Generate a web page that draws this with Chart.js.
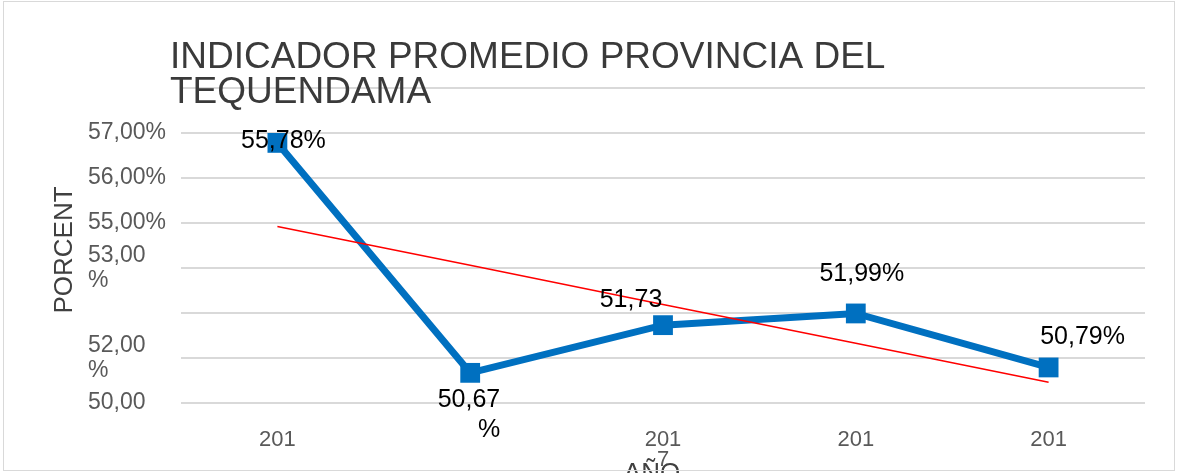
<!DOCTYPE html>
<html>
<head>
<meta charset="utf-8">
<script src="https://cdn.jsdelivr.net/npm/chart.js@4/dist/chart.umd.min.js"></script>
<style>
  body { margin: 0; background: #fff; }
  #wrap { width: 1177px; height: 473px; }
</style>
</head>
<body>
<div id="wrap"><canvas id="grafica" width="1177" height="473"></canvas></div>
<script>
// datos
const years = ["201", "", ["201", "7"], "201", "201"];
const indicador = [55.78, 50.67, 51.73, 51.99, 50.79];
const tendencia = [53.92, 53.06, 52.19, 51.33, 50.46];
const pointLabels = ["55,78%", ["50,67", "%"], "51,73", "51,99%", "50,79%"];
// etiquetas del eje y tal como aparecen (valor 50 .. 57)
const yTickLabels = ["50,00", ["52,00", "%"], "", ["53,00", "%"], "55,00%", "56,00%", "57,00%", ""];

const titleLines = ["INDICADOR PROMEDIO PROVINCIA DEL", "TEQUENDAMA"];

// desplazamientos de las etiquetas de datos respecto al punto
const labelOffsets = [[6, -2], [30, 27], [-32, -25], [6, -39], [34, -30]];

const textosPlugin = {
    id: "textos",
    afterDatasetsDraw(chart) {
        const ctx = chart.ctx;
        const meta = chart.getDatasetMeta(1);
        ctx.save();
        ctx.fillStyle = "#000";
        ctx.font = "25px 'Liberation Sans', Arial, sans-serif";
        ctx.textBaseline = "middle";
        meta.data.forEach(function (pt, i) {
            const lbl = pointLabels[i];
            const off = labelOffsets[i];
            if (Array.isArray(lbl)) {
                ctx.textAlign = "right";
                lbl.forEach(function (line, j) {
                    ctx.fillText(line, pt.x + off[0], pt.y + off[1] + j * 30);
                });
            } else {
                ctx.textAlign = "center";
                ctx.fillText(lbl, pt.x + off[0], pt.y + off[1]);
            }
        });
        ctx.restore();
    },
    afterDraw(chart) {
        const ctx = chart.ctx;
        ctx.save();
        // titulo
        ctx.fillStyle = "#3a3a3a";
        ctx.font = "37px 'Liberation Sans', Arial, sans-serif";
        ctx.textAlign = "left";
        ctx.textBaseline = "alphabetic";
        ctx.fillText(titleLines[0], 170, 68);
        ctx.fillText(titleLines[1], 170, 103);
        // titulos de ejes
        ctx.fillStyle = "#404040";
        ctx.font = "26px 'Liberation Sans', Arial, sans-serif";
        ctx.textAlign = "center";
        ctx.fillText("AÑO", 652, 481);
        ctx.translate(72, 250);
        ctx.rotate(-Math.PI / 2);
        ctx.textBaseline = "alphabetic";
        ctx.fillText("PORCENT", 0, 0);
        ctx.restore();
        // borde
        ctx.save();
        ctx.strokeStyle = "#d9d9d9";
        ctx.lineWidth = 1;
        ctx.strokeRect(3.5, 1.5, 1171, 469);
        ctx.restore();
    }
};

new Chart("grafica", {
    type: "line",
    data: {
        labels: years,
        datasets: [{
            label: "Tendencia",
            data: tendencia,
            borderColor: "#FF0000",
            borderWidth: 1.5,
            pointRadius: 0,
            fill: false,
            order: 0
        }, {
            label: "Indicador",
            data: indicador,
            borderColor: "#0070C0",
            borderWidth: 7,
            pointStyle: "rect",
            pointRadius: 14,
            pointBackgroundColor: "#0070C0",
            pointBorderWidth: 0,
            fill: false,
            order: 1
        }]
    },
    options: {
        responsive: false,
        animation: false,
        layout: { padding: { left: 88, top: 88, right: 32, bottom: 0 } },
        plugins: {
            legend: { display: false },
            tooltip: { enabled: false }
        },
        scales: {
            x: {
                offset: true,
                grid: { display: false },
                border: { display: false },
                ticks: {
                    color: "#595959",
                    font: { family: "'Liberation Sans', Arial, sans-serif", size: 22, lineHeight: 0.95 },
                    padding: 18,
                    maxRotation: 0,
                    autoSkip: false
                },
                afterFit(scale) { scale.height = 70; }
            },
            y: {
                min: 50,
                max: 57,
                grid: { color: "#d9d9d9", lineWidth: 2, drawTicks: false },
                border: { display: false },
                ticks: {
                    stepSize: 1,
                    autoSkip: false,
                    color: "#595959",
                    crossAlign: "far",
                    font: { family: "'Liberation Sans', Arial, sans-serif", size: 23, lineHeight: 1.1 },
                    callback: function (value) {
                        return yTickLabels[Math.round(value - 50)];
                    }
                },
                afterFit(scale) { scale.width = 93; }
            }
        }
    },
    plugins: [textosPlugin]
});
</script>
</body>
</html>
